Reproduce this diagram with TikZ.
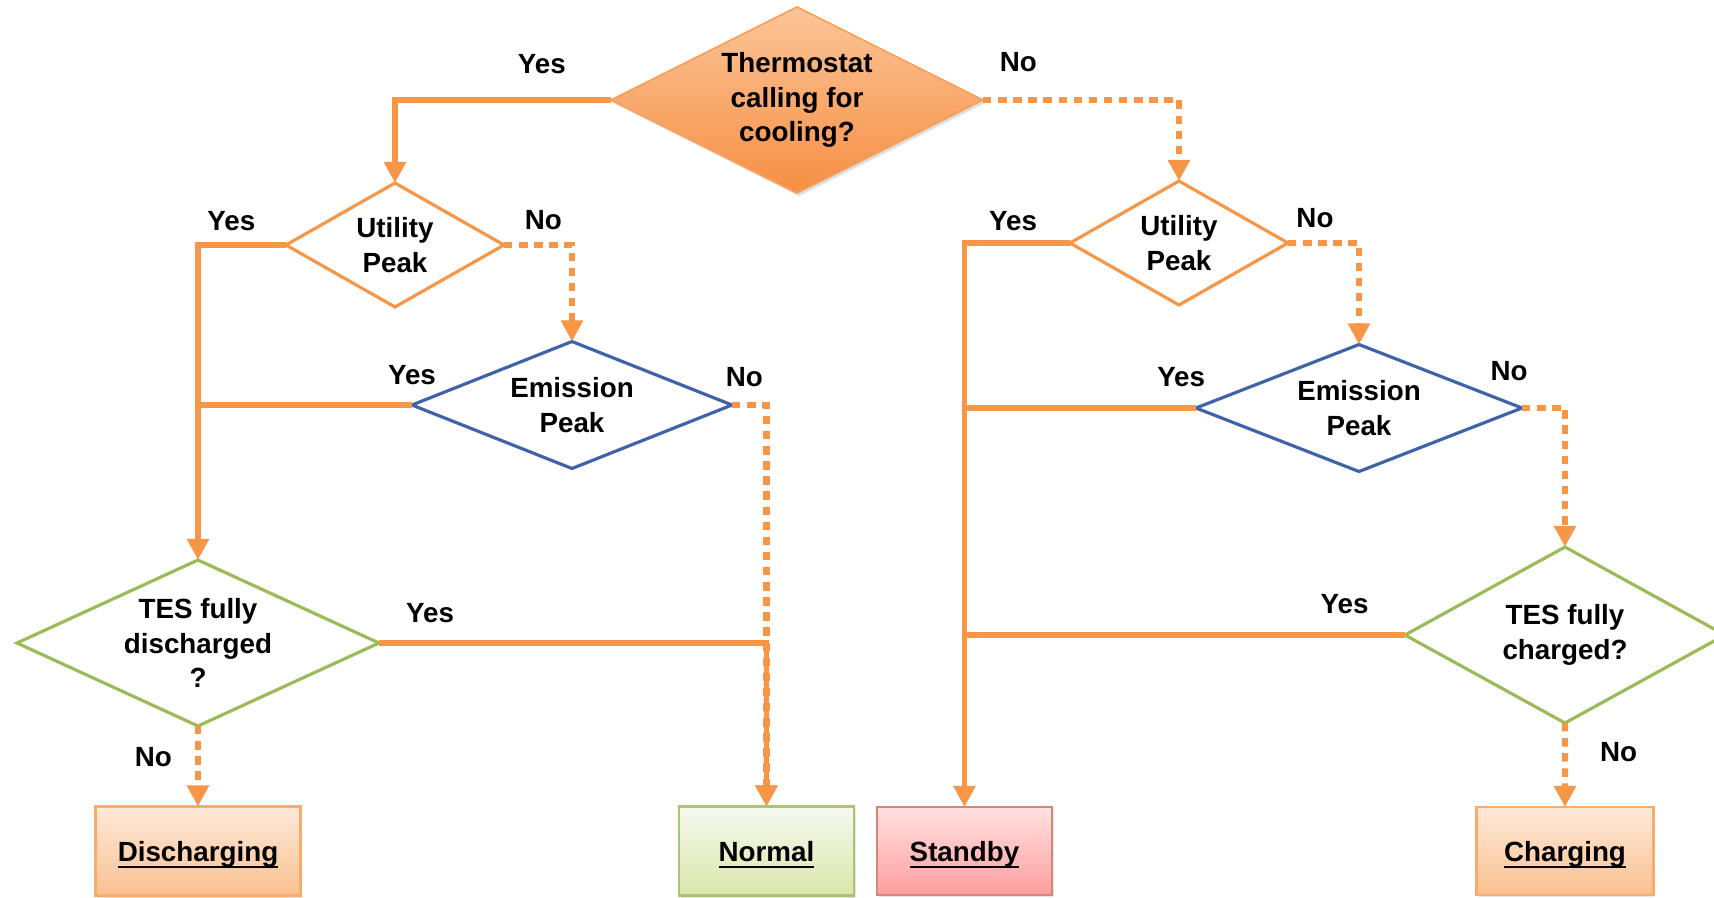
\documentclass[tikz,border=0pt]{standalone}
\usepackage{fontspec}
\setmainfont{Liberation Sans}
\usepackage{tikz}
\usetikzlibrary{shapes.geometric, arrows.meta, shadows}

\definecolor{lineOrange}{HTML}{F79646}
\definecolor{emisBlue}{HTML}{3F62A8}
\definecolor{tesGreen}{HTML}{9BBB59}

\newsavebox{\wordbox}
\newcommand{\uword}[1]{\sbox{\wordbox}{#1}\rlap{\smash{\rule[-2.1pt]{\wd\wordbox}{0.7pt}}}\usebox{\wordbox}}

\tikzstyle{question} = [diamond, inner sep=0pt, outer sep=0pt, align=center, font=\fontsize{7.9}{9.9}\selectfont\bfseries]
\tikzstyle{thermoNode} = [question, aspect=2, minimum width=3.72cm, minimum height=1.86cm, draw=lineOrange!90!white, line width=0.5pt,
top color=lineOrange!55!white, bottom color=lineOrange!95!red, drop shadow={opacity=0.25, shadow xshift=0.6pt, shadow yshift=-0.9pt}]
\tikzstyle{utilityNode} = [question, aspect=1.75, minimum width=2.18cm, minimum height=1.24cm, draw=lineOrange, line width=0.9pt]
\tikzstyle{emissionNode} = [question, aspect=2.5, minimum width=3.2cm, minimum height=1.27cm, draw=emisBlue, line width=0.9pt]
\tikzstyle{tesNode} = [question, aspect=2.2, draw=tesGreen, line width=0.9pt]
\tikzstyle{modeNodes} = [rectangle, minimum width=1.76cm, minimum height=0.88cm, text centered, inner sep=0pt, outer sep=0pt,
text height=5.7pt, text depth=0pt, line width=0.6pt, font=\fontsize{7.9}{9.9}\selectfont\bfseries,
drop shadow={opacity=0.2, shadow xshift=0.5pt, shadow yshift=-0.7pt}]
\tikzstyle{answer} = [inner sep=0pt, font=\fontsize{7.9}{9.9}\selectfont\bfseries]
\tikzstyle{arrow} = [line width=1.5pt, draw=lineOrange, -{Triangle[width=6pt,length=6pt]}]
\tikzstyle{dotArrow} = [arrow, line width=1.8pt, dash pattern=on 2.4pt off 1.9pt]
\tikzstyle{joinLine} = [line width=1.5pt, draw=lineOrange]

\begin{document}
\begin{tikzpicture} [node distance=1.6cm]
        \useasboundingbox (-7.97,1.0) rectangle (9.17,-7.97);

        \node (thermostat) [thermoNode] {Thermostat\\calling for\\cooling?};

        % occupied side
        \node (utilityL) [utilityNode, below of=thermostat, xshift=-4.02cm, yshift=0.15cm] {Utility\\Peak};
        \node (emissionL) [emissionNode, below of=utilityL, xshift=1.77cm] {Emission\\Peak};
        \node (tesL) [tesNode, minimum width=3.62cm, minimum height=1.66cm, below of=emissionL, xshift=-3.74cm, yshift=-0.78cm] {TES fully\\discharged\\?};

        % unoccupied side
        \node (utilityR) [utilityNode, below of=thermostat, xshift=3.82cm, yshift=0.17cm] {Utility\\Peak};
        \node (emissionR) [emissionNode, minimum width=3.26cm, below of=utilityR, xshift=1.8cm, yshift=-0.05cm] {Emission\\Peak};
        \node (tesR) [tesNode, minimum width=3.2cm, minimum height=1.76cm, below of=emissionR, xshift=2.06cm, yshift=-0.67cm] {TES fully\\charged?};

        % modes
        \node (discharging) [modeNodes, minimum width=2.05cm, minimum height=0.89cm, draw=lineOrange!80!white,
            top color=lineOrange!20!white, bottom color=lineOrange!60!white, below of=tesL, yshift=-0.48cm] {\uword{Discharging}};
        \node (normal) [modeNodes, minimum width=1.75cm, minimum height=0.89cm, draw=tesGreen!85!white,
            top color=tesGreen!10!white, bottom color=tesGreen!40!white!90!yellow, right of=discharging, xshift=4.085cm] {\uword{Normal}};
        \node (standby) [modeNodes, minimum width=1.75cm, draw=red!45!lineOrange!70!black!60!white,
            top color=red!12!white, bottom color=red!38!white, right of=normal, xshift=0.38cm] {\uword{Standby}};
        \node (charging) [modeNodes, minimum width=1.77cm, draw=lineOrange!80!white,
            top color=lineOrange!20!white, bottom color=lineOrange!60!white, right of=standby, xshift=4.405cm] {\uword{Charging}};

        \draw[arrow] (thermostat) -| node[answer, pos=0.16, above=0.24cm] (yesThermo) {Yes} (utilityL);
        \draw[dotArrow] (thermostat) -| node[answer, pos=0.09, above=0.25cm] (noThermo) {No} (utilityR);

        \draw[arrow] (utilityL) -| node[answer, pos=0.31, above=0.12cm] (yesUtilL) {Yes} (tesL);
        \draw[dotArrow] (utilityL) -| node[answer, pos=0.29, above=0.12cm] (noUtilL) {No} (emissionL);
        \draw[joinLine] (emissionL.west) -- node[answer, pos=0, above=0.18cm] (yesEmisL) {Yes} (emissionL.west -| tesL.north);
        \draw[dotArrow] (emissionL) -| node[answer, pos=0.18, above=0.15cm] (noEmisL) {No} (normal);
        \draw[arrow] (tesL) -| node[answer, pos=0.066, above=0.18cm] (yesTesL) {Yes} (normal);
        \draw[dotArrow] (tesL) -- node[answer, pos=0.39, left=0.23cm] (noTesL) {No} (discharging);

        \draw[arrow] (utilityR) -| node[answer, pos=0.27, above=0.1cm] (yesUtilR) {Yes} (standby);
        \draw[dotArrow] (utilityR) -| node[answer, pos=0.19, above=0.12cm] (noUtilR) {No} (emissionR);
        \draw[joinLine] (emissionR.west) -- node[answer, pos=0.064, above=0.19cm] (yesEmisR) {Yes} (emissionR.west -| standby.north);
        \draw[dotArrow] (emissionR) -| node[answer, pos=0, above=0.24cm, xshift=-0.13cm] (noEmisR) {No} (tesR);
        \draw[joinLine] (tesR.west) -- node[answer, pos=0.137, above=0.19cm] (yesTesR) {Yes} (tesR.west -| standby.north);
        \draw[dotArrow] (tesR) -- node[answer, pos=0.35, right=0.32cm] (noTesR) {No} (charging);

    \end{tikzpicture}
\end{document}
